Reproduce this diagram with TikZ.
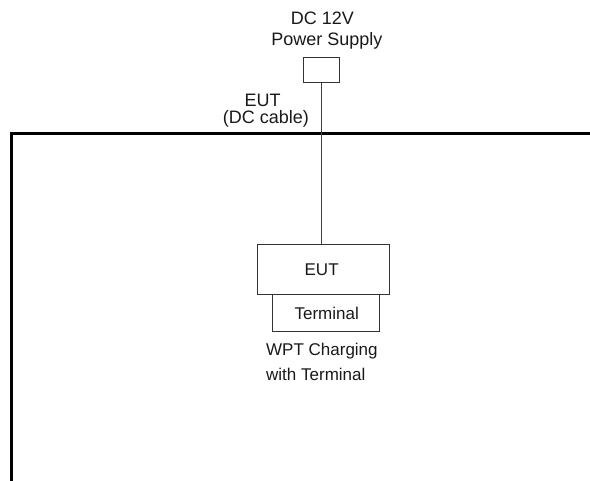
\documentclass[tikz,border=0pt]{standalone}
\usepackage{fontspec}
\setmainfont{Liberation Sans}
\begin{document}
\begin{tikzpicture}[x=1pt,y=-1pt,
  box/.style={draw=black!80,line width=1.3pt,inner sep=0pt,anchor=north west},
  lbl/.style={font=\fontsize{18}{22}\selectfont,inner sep=0pt,text=black!90},
  ilbl/.style={font=\fontsize{17}{21}\selectfont,inner sep=0pt,text=black!90},
  wire/.style={draw=black!75,line width=1.2pt},
  wall/.style={draw=black,line width=3pt}]
\useasboundingbox (0,0) rectangle (590,481);
% wall
\coordinate (wb) at (11.5,483);
\coordinate (wc) at (11.5,133.5);
\coordinate (we) at (592,133.5);
\draw[wall] (wb) -- (wc) -- (we);
% power supply
\node[box,minimum width=36pt,minimum height=25pt] (ps) at (303,57) {};
\node[lbl] (pst1) at (322.5,18.5) {DC 12V};
\node[lbl] (pst2) at (327,41) {Power Supply};
% EUT cable label
\node[lbl] (c1) at (262.5,100) {EUT};
\node[lbl] (c2) at (266,119) {(DC cable)};
% EUT and terminal
\node[box,minimum width=107pt,minimum height=37pt] (term) at (272,294) {};
\node[ilbl] at ([xshift=0.5pt]term.center) {Terminal};
\node[box,fill=white,minimum width=132pt,minimum height=50pt] (eut) at (257,244) {};
\node[ilbl] at ([xshift=-2pt]eut.center) {EUT};
\draw[wire] (ps.south) -- (ps.south |- eut.north);
\node[ilbl,align=left,font=\fontsize{17}{25}\selectfont,anchor=north west] (wpt) at (266,343) {WPT Charging\\with Terminal};
\end{tikzpicture}
\end{document}
